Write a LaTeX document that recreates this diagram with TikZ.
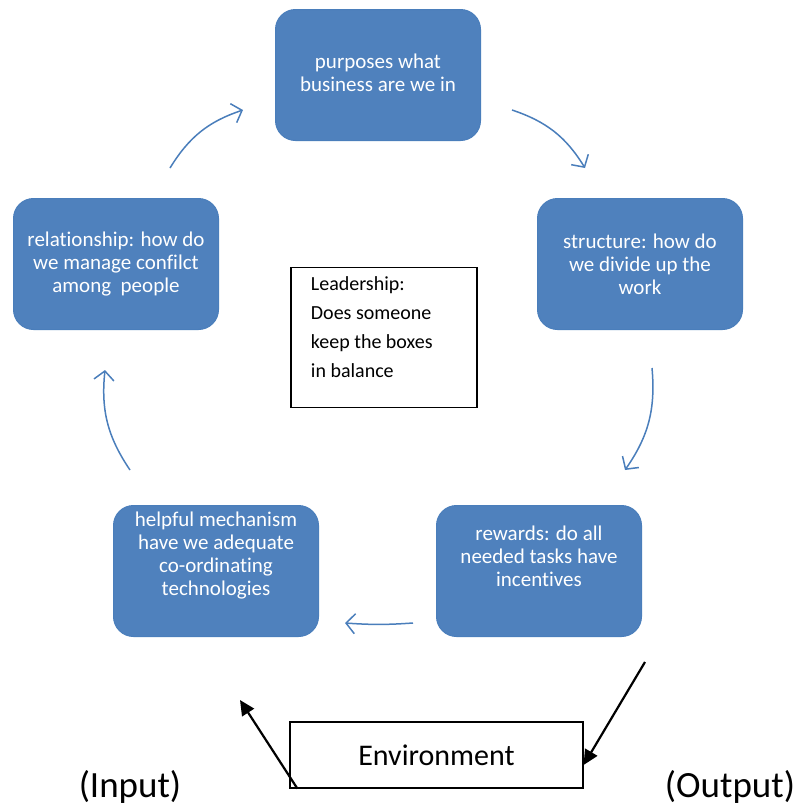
\documentclass[tikz,border=0pt]{standalone}
\usepackage{fontspec}
\setmainfont{Carlito}[Ligatures={NoCommon}]
\usetikzlibrary{arrows.meta,positioning,calc}
\definecolor{boxblue}{HTML}{4F81BD}
\definecolor{edgeblue}{HTML}{4A7EBB}

\tikzset{
  block/.style={draw=edgeblue, fill=boxblue, rounded corners=20pt,
    minimum width=205pt, minimum height=131pt, line width=1pt},
  blocktext/.style={text=white, font=\fontsize{21}{23}\selectfont, align=center},
  cycle/.style={draw=edgeblue, line width=1.5pt,
    -{Straight Barb[length=9pt,width=20pt]}, bend left=20},
  flow/.style={black, line width=2.2pt, -{Triangle[length=15pt,width=14pt]}}
}

\begin{document}
\begin{tikzpicture}[x=1pt, y=-1pt]
  \useasboundingbox (0,0) rectangle (795,807);

  % the five blue boxes
  \node[block] (purpose) at (378,75) {};
  \node[blocktext] at ([yshift=2pt]purpose.center) {purposes what\\business are we in};
  \node[block] (struct) at (640,264) {};
  \node[blocktext] at (struct.center) {structure: how do\\we divide up the\\work};
  \node[block] (reward) at (539,571) {};
  \node[blocktext] at ([yshift=15pt]reward.center) {rewards: do all\\needed tasks have\\incentives};
  \node[block] (helpful) at (216,571) {};
  \node[blocktext] at ([yshift=15pt]helpful.center) {helpful mechanism\\have we adequate\\co-ordinating\\technologies};
  \node[block] (relation) at (116,264) {};
  \node[blocktext] at (relation.center) {relationship: how do\\we manage confilct\\among~ people};

  % leadership in the middle
  \node[draw, line width=1.2pt, minimum width=186pt, minimum height=140pt] (lead) at (384,337.5) {};
  \node[anchor=north west, align=left, font=\fontsize{20}{29}\selectfont]
    at ([xshift=17pt,yshift=-6pt]lead.north west)
    {Leadership:\\Does someone\\keep the boxes\\in balance};

  % environment
  \node[draw, line width=1.2pt, minimum width=293pt, minimum height=66pt,
    font=\fontsize{30}{34}\selectfont] (env) at (436.5,755) {Environment};
  \node[anchor=base, font=\fontsize{37}{40}\selectfont] (input) at (130,797) {(Input)};
  \node[anchor=base, font=\fontsize{37}{40}\selectfont] (output) at (730,797) {(Output)};

  % cycle arrows
  \coordinate (c1a) at (512,110); \coordinate (c1b) at (585,168);
  \coordinate (c2a) at (652,368); \coordinate (c2b) at (625,470);
  \coordinate (c3a) at (413,623); \coordinate (c3b) at (345,623);
  \coordinate (c4a) at (130,470); \coordinate (c4b) at (105,370);
  \coordinate (c5a) at (170,168); \coordinate (c5b) at (243,110);
  \draw[cycle] (c1a) to (c1b);
  \draw[cycle] (c2a) to (c2b);
  \draw[cycle, bend left=4] (c3a) to (c3b);
  \draw[cycle] (c4a) to (c4b);
  \draw[cycle] (c5a) to (c5b);

  % input / output arrows
  \coordinate (outstart) at (645,662);
  \coordinate (inend) at (240,700);
  \draw[flow] (outstart) -- ([yshift=-10pt]env.east);
  \draw[flow] ([xshift=8pt]env.south west) -- (inend);
\end{tikzpicture}
\end{document}
